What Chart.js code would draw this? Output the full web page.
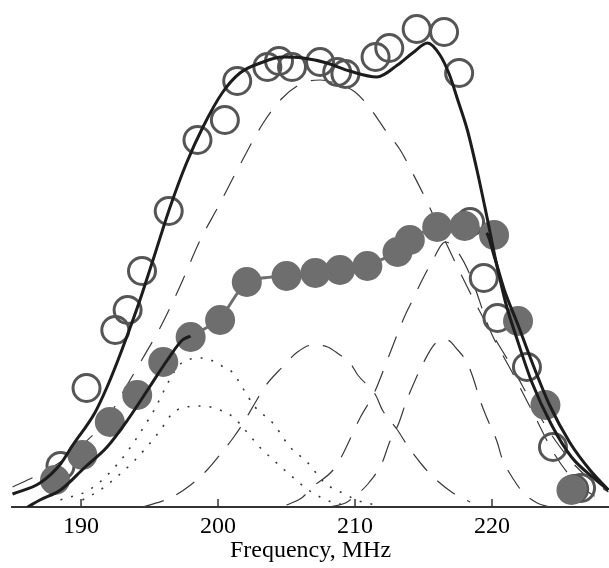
<!DOCTYPE html>
<html>
<head>
<meta charset="utf-8">
<script src="https://cdn.jsdelivr.net/npm/chart.js@4.4.1/dist/chart.umd.min.js"></script>
<style>
  html, body { margin: 0; padding: 0; background: #fff; }
  #wrap { width: 609px; height: 568px; }
</style>
</head>
<body>
<div id="wrap"><canvas id="chart" width="609" height="568"></canvas></div>
<script>
// frequency axis (MHz)
const xMin = 184.96;
const xMax = 228.54;
const tickFreqs = [190, 200, 210, 220];

// open circles (upper spectrum), amplitude in arbitrary units
const openFreq = [188.5, 190.4, 192.5, 193.4, 194.45, 196.4, 198.5, 200.5, 201.4, 203.6, 204.45, 205.4, 207.45, 208.7, 209.3, 211.5, 212.5, 214.5, 216.5, 217.6, 218.4, 219.4, 220.4, 222.55, 224.45, 226.0, 226.5];
const openAmp  = [41, 119, 177, 197, 236, 296, 367, 387, 426, 440, 446, 440, 445, 435, 433, 450, 459, 478, 475, 434, 285, 229, 189, 140, 60, 18, 19];

// filled circles (lower spectrum)
const filledFreq = [188.1, 190.1, 192.1, 194.1, 196.0, 198.0, 200.15, 202.1, 205.0, 207.1, 208.9, 210.9, 213.1, 214.0, 216.0, 218.0, 220.15, 221.9, 223.9, 225.8];
const filledAmp  = [27, 52, 85, 112, 145, 170, 187, 225, 231, 234, 237, 241, 255, 267, 280, 281, 272, 186, 102, 17];

// fit through the open circles
const upperFitFreq = [185.0, 187.0, 188.5, 189.4, 191.0, 191.9, 192.7, 193.6, 194.3, 195.3, 196.5, 197.7, 198.9, 200.3, 201.6, 203.1, 204.7, 206.2, 207.95, 209.6, 211.6, 213.1, 214.2, 215.3, 216.2, 216.9, 217.5, 218.2, 218.9, 219.6, 220.3, 221.0, 221.8, 222.9, 224.35, 225.8, 227.6, 228.5];
const upperFitAmp  = [13, 24, 43, 62, 94, 120, 147, 180, 207, 249, 300, 344, 380, 414, 434, 444, 450, 449, 444, 436, 430, 442, 454, 464, 452, 432, 407, 377, 337, 292, 245, 204, 169, 125, 82, 50, 27, 17];

// fit through the filled circles
const lowerFitFreq = [186.1, 187.0, 188.5, 190.3, 191.9, 193.4, 195.0, 196.3, 197.4, 198.0, 200.15, 202.1, 205.0, 207.1, 208.9, 210.9, 213.1, 214.0, 216.0, 218.0, 219.6, 220.2, 220.9, 221.9, 223.0, 224.2, 225.7, 227.15, 228.5];
const lowerFitAmp  = [0, 7, 17, 40, 60, 87, 120, 147, 167, 171, 189, 224, 231, 234, 237, 242, 256, 267, 280, 281, 274, 249, 217, 182, 142, 102, 64, 37, 17];

// components of the upper fit (long dashes)
const compAFreq = [185.0, 187.0, 189.0, 192.0, 192.85, 194.3, 195.8, 197.2, 198.7, 200.0, 201.4, 203.3, 204.7, 206.2, 207.45, 208.7, 210.0, 211.2, 212.3, 213.3, 214.2, 215.3, 216.2, 217.3, 218.6, 219.85, 221.5, 223.0, 224.6, 226.1, 227.6, 228.5];
const compAAmp  = [20, 33, 50, 90, 110, 144, 180, 220, 267, 300, 337, 384, 409, 424, 427, 423, 415, 397, 375, 357, 334, 304, 277, 245, 209, 177, 139, 102, 67, 41, 23, 15];
const compBFreq = [205.0, 206.1, 206.9, 208.4, 209.0, 210.4, 211.4, 212.5, 213.6, 214.2, 214.9, 215.6, 216.6, 217.5, 218.4, 219.85, 221.5, 223.0, 224.6, 226.1, 227.9];
const compBAmp  = [2, 9, 20, 37, 50, 90, 114, 152, 190, 207, 227, 245, 265, 255, 232, 177, 134, 94, 52, 25, 7];

// components of the lower fit (shorter dashes)
const compCFreq = [194.5, 196.5, 198.0, 199.2, 200.3, 201.1, 201.75, 202.7, 203.4, 204.7, 205.8, 206.9, 208.0, 208.9, 209.6, 210.2, 211.5, 212.0, 213.1, 213.8, 214.9, 215.7, 217.15, 218.4];
const compCAmp  = [0, 9, 22, 37, 55, 69, 82, 104, 120, 140, 155, 162, 160, 152, 145, 132, 112, 97, 77, 62, 42, 30, 14, 5];
const compDFreq = [208.2, 209.3, 210.1, 211.0, 212.0, 212.5, 213.2, 213.7, 214.3, 214.8, 215.9, 216.7, 217.5, 218.2, 218.6, 219.2, 219.6, 220.4, 220.7, 221.6, 222.3, 223.3, 224.2];
const compDAmp  = [0, 4, 12, 24, 45, 64, 84, 104, 124, 139, 164, 167, 157, 144, 130, 104, 90, 64, 50, 27, 14, 4, 0];

// dotted components
const compEFreq = [188.5, 190.7, 192.85, 195.0, 197.45, 198.9, 200.4, 201.1, 201.8, 202.7, 204.0, 205.25, 206.5, 207.8, 209.4, 210.1, 211.5];
const compEAmp  = [7, 18, 46, 89, 145, 149, 140, 134, 119, 100, 84, 60, 45, 24, 12, 7, 2];
const compFFreq = [190.1, 191.4, 192.6, 193.8, 194.8, 195.8, 196.7, 197.7, 198.9, 200.15, 201.1, 202.1, 203.1, 203.8, 205.1, 206.6, 207.45, 208.3, 209.6];
const compFAmp  = [7, 17, 30, 45, 60, 77, 94, 100, 101, 97, 90, 75, 59, 50, 34, 17, 10, 5, 1];

const pts = (xs, ys) => xs.map((x, i) => ({ x: x, y: ys[i] }));

const fitColor = '#1c1c1c';
const openColor = '#555555';
const filledColor = '#6e6e6e';
const compColor = '#3a3a3a';

function compLine(xs, ys, dash, width) {
  return {
    data: pts(xs, ys),
    showLine: true,
    borderColor: compColor,
    borderWidth: width,
    borderDash: dash,
    pointRadius: 0,
    cubicInterpolationMode: 'monotone',
    order: 5
  };
}

// small tick marks pointing up into the plot
const innerTicks = {
  id: 'innerTicks',
  afterDatasetsDraw(chart) {
    const { ctx, chartArea, scales: { x } } = chart;
    ctx.save();
    ctx.strokeStyle = '#333';
    ctx.lineWidth = 1.5;
    x.ticks.forEach(t => {
      const px = x.getPixelForValue(t.value);
      ctx.beginPath();
      ctx.moveTo(px, chartArea.bottom);
      ctx.lineTo(px, chartArea.bottom - 8);
      ctx.stroke();
    });
    ctx.restore();
  }
};

new Chart(document.getElementById('chart'), {
  type: 'scatter',
  data: {
    datasets: [
      {
        // upper fit
        data: pts(upperFitFreq, upperFitAmp),
        showLine: true,
        borderColor: fitColor,
        borderWidth: 3,
        pointRadius: 0,
        cubicInterpolationMode: 'monotone',
        order: 0
      },
      {
        // lower fit, grey where it runs through the filled circles
        data: pts(lowerFitFreq, lowerFitAmp),
        showLine: true,
        borderColor: fitColor,
        borderWidth: 3,
        pointRadius: 0,
        cubicInterpolationMode: 'monotone',
        segment: {
          borderColor: c => (c.p0.parsed.x >= 197.9 && c.p1.parsed.x <= 219.7) ? filledColor : fitColor
        },
        order: 1
      },
      {
        data: pts(filledFreq, filledAmp),
        pointStyle: 'circle',
        pointRadius: 15,
        pointBorderWidth: 0,
        pointBackgroundColor: filledColor,
        clip: false,
        order: 2
      },
      {
        data: pts(openFreq, openAmp),
        pointStyle: 'circle',
        pointRadius: 13.5,
        pointBorderWidth: 3,
        pointBorderColor: openColor,
        pointBackgroundColor: 'rgba(0,0,0,0)',
        clip: false,
        order: 3
      },
      compLine(compAFreq, compAAmp, [22, 15], 1.2),
      compLine(compBFreq, compBAmp, [22, 15], 1.2),
      compLine(compCFreq, compCAmp, [22, 14], 1.2),
      compLine(compDFreq, compDAmp, [22, 14], 1.2),
      compLine(compEFreq, compEAmp, [2, 9], 1.6),
      compLine(compFFreq, compFAmp, [2, 9], 1.6)
    ]
  },
  options: {
    responsive: false,
    animation: false,
    events: [],
    layout: { autoPadding: false, padding: { left: 12, right: 0, top: 0, bottom: 0 } },
    plugins: {
      legend: { display: false },
      tooltip: { enabled: false }
    },
    scales: {
      x: {
        type: 'linear',
        min: xMin,
        max: xMax,
        afterBuildTicks: scale => { scale.ticks = tickFreqs.map(v => ({ value: v })); },
        // keep the axis band at a fixed height so the plot bottom sits where the reference has it
        afterFit: scale => { scale.height = 61; },
        grid: { display: false, drawTicks: false },
        border: { display: true, color: '#333', width: 2 },
        ticks: {
          color: '#000',
          padding: 7.5,
          maxRotation: 0,
          font: { family: 'Liberation Serif', size: 24, lineHeight: 1.0 }
        },
        title: {
          display: true,
          text: 'Frequency, MHz',
          color: '#000',
          padding: { top: 0, bottom: 5 },
          font: { family: 'Liberation Serif', size: 24, lineHeight: 1.0 }
        }
      },
      y: {
        display: false,
        min: 0,
        max: 507
      }
    }
  },
  plugins: [innerTicks]
});
</script>
</body>
</html>
